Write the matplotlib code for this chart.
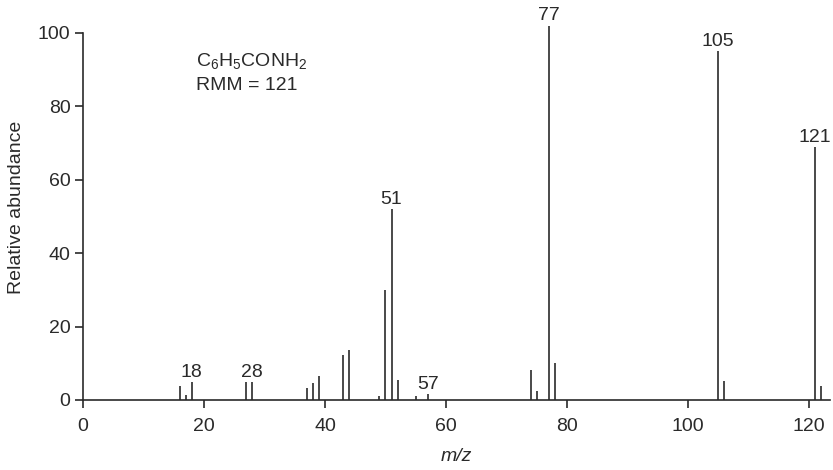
import matplotlib.pyplot as plt

# m/z peaks and relative abundances
mz = [16, 17, 18, 27, 28, 37, 38, 39, 43, 44, 49, 50, 51, 52, 55, 57,
      74, 75, 77, 78, 105, 106, 121, 122]
abundance = [3.7, 1.4, 4.8, 4.8, 4.8, 3.3, 4.7, 6.4, 12.2, 13.7, 1.2, 30, 52, 5.4, 1.2, 1.6,
             8.3, 2.5, 102, 10.2, 95, 5.3, 69, 3.8]
labelled = [18, 28, 51, 57, 77, 105, 121]

ink = "#2a2a2a"
plt.rcParams["font.family"] = ["Liberation Sans", "DejaVu Sans"]
plt.rcParams["mathtext.fontset"] = "custom"
plt.rcParams["mathtext.rm"] = "Liberation Sans"

fig = plt.figure(figsize=(8.33, 4.70), dpi=100)
ax = fig.add_axes([0.0996, 0.149, 0.897, 0.82])

ax.vlines(mz, 0, abundance, color=ink, linewidth=1.2)

for m, a in zip(mz, abundance):
    if m in labelled:
        top = a
        if m in (18, 28, 57):
            top = max(abundance[i] for i, v in enumerate(mz) if abs(v - m) <= 1)
        ax.text(m, top + 0.3, str(m), ha="center", va="bottom", fontsize=14, color=ink)

ax.text(18.6, 95, r"C$_\mathregular{6}$H$_\mathregular{5}$CONH$_\mathregular{2}$",
        fontsize=14, color=ink, va="top")
ax.text(18.6, 88, "RMM = 121", fontsize=14, color=ink, va="top")

ax.set_xlim(0, 123.5)
ax.set_ylim(0, 105)
ax.set_xticks(range(0, 121, 20))
ax.set_yticks(range(0, 101, 20))
ax.spines["top"].set_visible(False)
ax.spines["right"].set_visible(False)
ax.spines["left"].set_bounds(0, 100)
for s in ("left", "bottom"):
    ax.spines[s].set_color(ink)
    ax.spines[s].set_linewidth(1.2)
ax.tick_params(length=6, width=1.2, colors=ink, labelsize=14)
ax.tick_params(axis="x", pad=7)
ax.tick_params(axis="y", pad=3)

ax.set_xlabel("m/z", fontsize=14, fontstyle="italic", color=ink, labelpad=9)
ax.set_ylabel("Relative abundance", fontsize=14, color=ink, labelpad=9)

fig.savefig("out.png", dpi=100)
